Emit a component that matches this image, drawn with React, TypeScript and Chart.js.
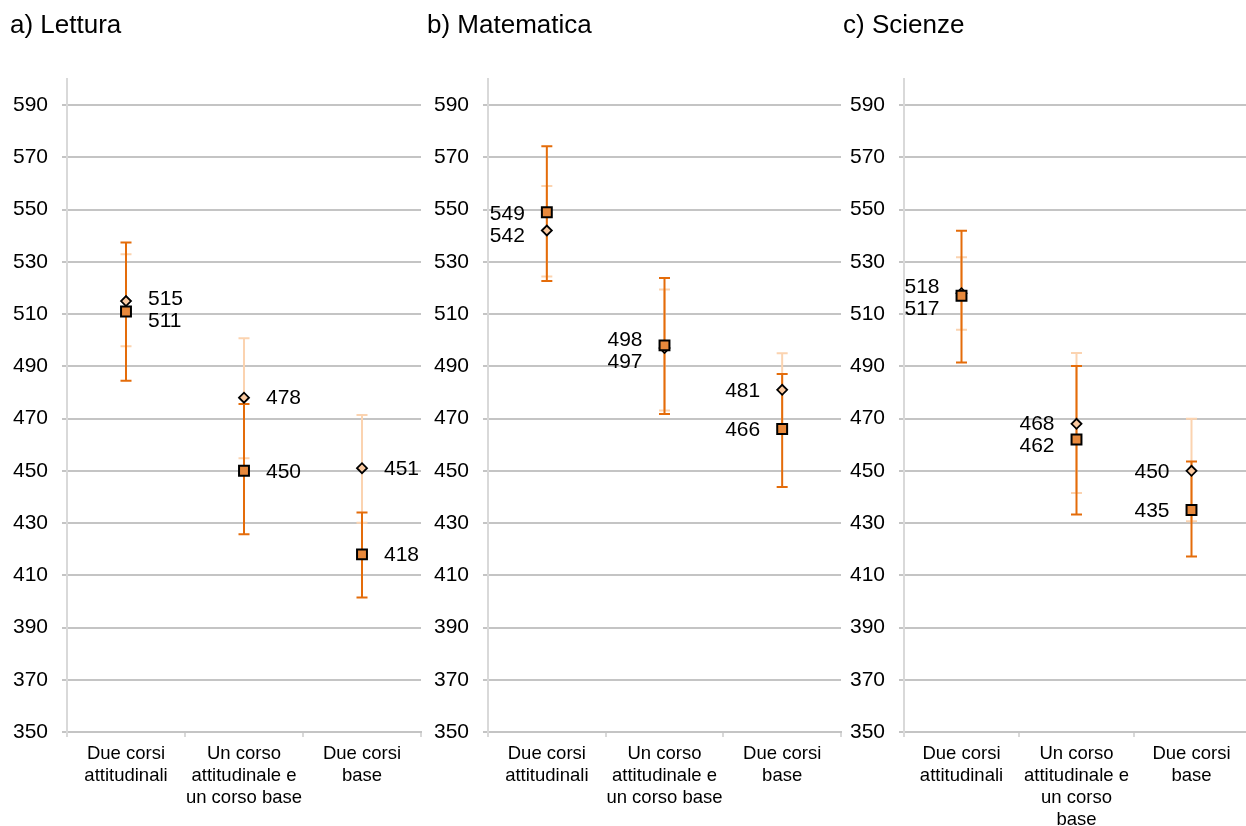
import React, { useEffect, useRef } from "react";
import { Chart, registerables } from "chart.js";

Chart.register(...registerables);

// ---------- DATA ----------
const categoriesAB: string[][] = [
  ["Due corsi", "attitudinali"],
  ["Un corso", "attitudinale e", "un corso base"],
  ["Due corsi", "base"],
];
const categoriesC: string[][] = [
  ["Due corsi", "attitudinali"],
  ["Un corso", "attitudinale e", "un corso", "base"],
  ["Due corsi", "base"],
];
const yTicks = [350, 370, 390, 410, 430, 450, 470, 490, 510, 530, 550, 570, 590];

// a) Lettura
const letturaSquare = [511, 450, 418];
const letturaSquareLow = [484.5, 425.7, 401.5];
const letturaSquareHigh = [537.4, 475.6, 434];
const letturaDiamond = [515, 478, 451];
const letturaDiamondLow = [497.7, 454.8, 430.1];
const letturaDiamondHigh = [532.9, 500.7, 471.4];

// b) Matematica
const matSquare = [549, 498, 466];
const matSquareLow = [522.7, 471.7, 443.8];
const matSquareHigh = [574.3, 523.8, 487.1];
const matDiamond = [542, 497, 481];
const matDiamondLow = [524.4, 473.1, 467];
const matDiamondHigh = [559, 519.4, 495];

// c) Scienze
const sciSquare = [517, 462, 435];
const sciSquareLow = [491.5, 433.3, 417.2];
const sciSquareHigh = [541.9, 490.1, 453.6];
const sciDiamond = [518, 468, 450];
const sciDiamondLow = [504, 441.5, 430.7];
const sciDiamondHigh = [531.8, 495.1, 469.9];

// ---------- STYLE ----------
const FONT = "'Liberation Sans', Arial, sans-serif";
const DARK_ORANGE = "#E46C0A";
const SQUARE_FILL = "#E8893C";
const LIGHT_ORANGE = "#FBD3B0";
const DIAMOND_FILL = "#FAC9A0";
const GRID = "#C4C4C4";
const AXIS = "#D9D9D9";

type PanelCfg = {
  title: string;
  titleX: number;
  left: number;
  width: number;
  yWidth: number;
  padRight: number;
  labelSide: "left" | "right";
  categories: string[][];
  sq: number[];
  sqLow: number[];
  sqHigh: number[];
  di: number[];
  diLow: number[];
  diHigh: number[];
};

const panels: PanelCfg[] = [
  {
    title: "a) Lettura", titleX: 10, left: 0, width: 430, yWidth: 67, padRight: 3, labelSide: "right",
    categories: categoriesAB,
    sq: letturaSquare, sqLow: letturaSquareLow, sqHigh: letturaSquareHigh,
    di: letturaDiamond, diLow: letturaDiamondLow, diHigh: letturaDiamondHigh,
  },
  {
    title: "b) Matematica", titleX: 7, left: 420, width: 430, yWidth: 68, padRight: 2, labelSide: "left",
    categories: categoriesAB,
    sq: matSquare, sqLow: matSquareLow, sqHigh: matSquareHigh,
    di: matDiamond, diLow: matDiamondLow, diHigh: matDiamondHigh,
  },
  {
    title: "c) Scienze", titleX: 5, left: 838, width: 420, yWidth: 66, padRight: 4, labelSide: "left",
    categories: categoriesC,
    sq: sciSquare, sqLow: sciSquareLow, sqHigh: sciSquareHigh,
    di: sciDiamond, diLow: sciDiamondLow, diHigh: sciDiamondHigh,
  },
];

const H = 826;
const X_AXIS_H = 94;
const TOP_PAD = 79;

function Panel({ cfg }: { cfg: PanelCfg }) {
  const ref = useRef<HTMLCanvasElement>(null);
  useEffect(() => {
    const canvas = ref.current!;
    const errorBars = {
      id: "errorBars",
      beforeDatasetsDraw(chart: any) {
        const ctx = chart.ctx;
        const xs = chart.scales.x;
        const ys = chart.scales.y;
        const series = [
          { low: cfg.diLow, high: cfg.diHigh, color: LIGHT_ORANGE },
          { low: cfg.sqLow, high: cfg.sqHigh, color: DARK_ORANGE },
        ];
        ctx.save();
        ctx.lineWidth = 2;
        for (const s of series) {
          ctx.strokeStyle = s.color;
          for (let i = 0; i < s.low.length; i++) {
            const x = xs.getPixelForValue(i);
            const y1 = ys.getPixelForValue(s.low[i]);
            const y2 = ys.getPixelForValue(s.high[i]);
            ctx.beginPath();
            ctx.moveTo(x, y1);
            ctx.lineTo(x, y2);
            ctx.moveTo(x - 5.5, y1);
            ctx.lineTo(x + 5.5, y1);
            ctx.moveTo(x - 5.5, y2);
            ctx.lineTo(x + 5.5, y2);
            ctx.stroke();
          }
        }
        ctx.restore();
      },
    };
    const labelsAndTitle = {
      id: "labelsAndTitle",
      afterDraw(chart: any) {
        const ctx = chart.ctx;
        const xs = chart.scales.x;
        const ys = chart.scales.y;
        ctx.save();
        ctx.fillStyle = "#000";
        ctx.font = `26px ${FONT}`;
        ctx.textAlign = "left";
        ctx.textBaseline = "alphabetic";
        ctx.fillText(cfg.title, cfg.titleX, 33);

        ctx.font = `21px ${FONT}`;
        ctx.textBaseline = "middle";
        const gap = 22;
        for (let i = 0; i < cfg.sq.length; i++) {
          const x = xs.getPixelForValue(i);
          let ySq = ys.getPixelForValue(cfg.sq[i]);
          let yDi = ys.getPixelForValue(cfg.di[i]);
          if (Math.abs(ySq - yDi) < gap) {
            const mid = (ySq + yDi) / 2 + 3;
            if (ySq < yDi || (ySq === yDi && cfg.sq[i] >= cfg.di[i])) {
              ySq = mid - gap / 2;
              yDi = mid + gap / 2;
            } else {
              yDi = mid - gap / 2;
              ySq = mid + gap / 2;
            }
          }
          const off = 22;
          if (cfg.labelSide === "right") {
            ctx.textAlign = "left";
            ctx.fillText(String(cfg.sq[i]), x + off, ySq + 1);
            ctx.fillText(String(cfg.di[i]), x + off, yDi + 1);
          } else {
            ctx.textAlign = "right";
            ctx.fillText(String(cfg.sq[i]), x - off, ySq + 1);
            ctx.fillText(String(cfg.di[i]), x - off, yDi + 1);
          }
        }
        ctx.restore();
      },
    };

    const chart = new Chart(canvas, {
      type: "line",
      data: {
        labels: cfg.categories as any,
        datasets: [
          {
            label: "square",
            data: cfg.sq,
            showLine: false,
            pointStyle: "rect",
            pointRadius: 7,
            pointBorderWidth: 2,
            pointBackgroundColor: SQUARE_FILL,
            pointBorderColor: "#000",
            borderColor: "#000",
            backgroundColor: SQUARE_FILL,
            order: 0,
          },
          {
            label: "diamond",
            data: cfg.di,
            showLine: false,
            pointStyle: "rectRot",
            pointRadius: 5,
            pointBorderWidth: 1.8,
            pointBackgroundColor: DIAMOND_FILL,
            pointBorderColor: "#000",
            borderColor: "#000",
            backgroundColor: DIAMOND_FILL,
            order: 1,
          },
        ],
      },
      options: {
        responsive: false,
        animation: false,
        devicePixelRatio: 1,
        layout: { padding: { top: TOP_PAD, right: cfg.padRight, left: 0, bottom: 0 } },
        plugins: {
          legend: { display: false },
          tooltip: { enabled: false },
          title: { display: false },
        },
        scales: {
          x: {
            type: "category",
            offset: true,
            grid: {
              display: true,
              drawOnChartArea: false,
              drawTicks: true,
              tickLength: 5,
              color: AXIS,
              lineWidth: 2,
              offset: true,
            },
            border: { display: true, color: GRID, width: 2 },
            ticks: {
              autoSkip: false,
              maxRotation: 0,
              minRotation: 0,
              padding: 6,
              color: "#000",
              font: { family: FONT, size: 18.5, lineHeight: 22 / 18.5 },
            },
            afterFit(scale: any) {
              scale.height = X_AXIS_H;
            },
          },
          y: {
            type: "linear",
            min: 350,
            max: 600,
            afterBuildTicks(scale: any) {
              scale.ticks = yTicks.map((v) => ({ value: v }));
            },
            grid: {
              color: GRID,
              lineWidth: 2,
              tickLength: 5,
              drawTicks: true,
            },
            border: { display: true, color: AXIS, width: 2 },
            ticks: {
              padding: 14,
              color: "#000",
              font: { family: FONT, size: 21 },
            },
            afterFit(scale: any) {
              scale.width = cfg.yWidth;
            },
          },
        },
      },
      plugins: [errorBars, labelsAndTitle],
    });
    return () => chart.destroy();
  }, [cfg]);
  return (
    <canvas
      ref={ref}
      width={cfg.width}
      height={H}
      style={{ position: "absolute", left: cfg.left, top: 0, width: cfg.width, height: H }}
    />
  );
}

export default function App() {
  return (
    <div
      style={{
        position: "fixed",
        left: 0,
        top: 0,
        width: 1246,
        height: 826,
        overflow: "hidden",
        background: "#fff",
      }}
    >
      {panels.map((p) => (
        <Panel key={p.title} cfg={p} />
      ))}
    </div>
  );
}
